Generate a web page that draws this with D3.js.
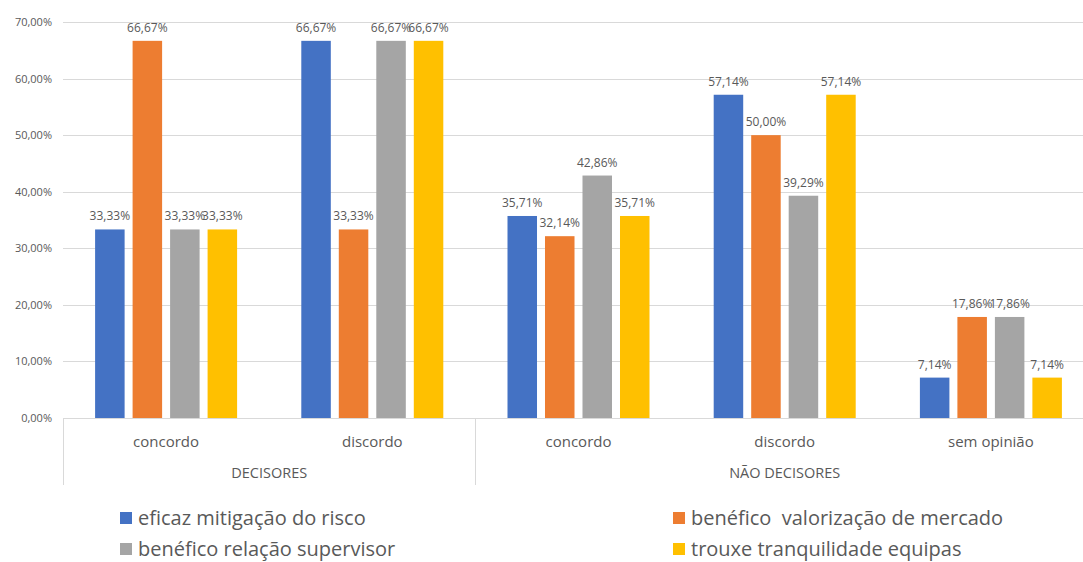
<!DOCTYPE html>
<html>
<head>
<meta charset="utf-8">
<script src="https://cdn.jsdelivr.net/npm/d3@7"></script>
<style>
  html, body { margin: 0; padding: 0; background: #ffffff; }
  svg { display: block; font-family: "Open Sans", "Noto Sans", sans-serif; }
</style>
</head>
<body>
<svg id="chart" width="1083" height="562"></svg>
<script>
// Grouped categories (outer group / inner answer)
const groups = ["DECISORES", "NÃO DECISORES"];
const categories = [
  { group: "DECISORES", label: "concordo" },
  { group: "DECISORES", label: "discordo" },
  { group: "NÃO DECISORES", label: "concordo" },
  { group: "NÃO DECISORES", label: "discordo" },
  { group: "NÃO DECISORES", label: "sem opinião" }
];
const seriesNames = [
  "eficaz mitigação do risco",
  "benéfico  valorização de mercado",
  "benéfico relação supervisor",
  "trouxe tranquilidade equipas"
];
// Percent values per series, one per category
const mitigacao   = [33.33, 66.67, 35.71, 57.14, 7.14];
const valorizacao = [66.67, 33.33, 32.14, 50.00, 17.86];
const supervisor  = [33.33, 66.67, 42.86, 39.29, 17.86];
const equipas     = [33.33, 66.67, 35.71, 57.14, 7.14];
const seriesValues = [mitigacao, valorizacao, supervisor, equipas];
const yTicks = [0, 10, 20, 30, 40, 50, 60, 70];

const colors = ["#4472C4", "#ED7D31", "#A5A5A5", "#FFC000"];
const textColor = "#595959";
const gridColor = "#d9d9d9";

const svg = d3.select("#chart");
const plotLeft = 63, plotRight = 1094, plotTop = 22, plotBottom = 418;

const locale = d3.formatLocale({ decimal: ",", thousands: ".", grouping: [3], currency: ["", "€"] });
const fmt = v => locale.format(".2f")(v) + "%";

const catIdx = categories.map((c, i) => i);
const x0 = d3.scaleBand().domain(catIdx).range([plotLeft, plotRight]).paddingInner(0).paddingOuter(0);
const x1 = d3.scaleBand().domain(d3.range(seriesNames.length)).range([0, x0.bandwidth()])
  .paddingInner(0.213).paddingOuter(0.856);
const y = d3.scaleLinear().domain([0, 70]).range([plotBottom, plotTop]);

// Horizontal gridlines
svg.append("g").selectAll("line").data(yTicks.filter(t => t > 0)).join("line")
  .attr("x1", plotLeft).attr("x2", plotRight)
  .attr("y1", d => Math.round(y(d)) + 0.5).attr("y2", d => Math.round(y(d)) + 0.5)
  .attr("stroke", gridColor).attr("stroke-width", 1);

// Y axis labels
const yAxis = d3.axisLeft(y).tickValues(yTicks).tickSize(0).tickPadding(11)
  .tickFormat(d => fmt(d));
svg.append("g").attr("transform", `translate(${plotLeft},0)`).call(yAxis)
  .call(g => g.select(".domain").remove())
  .call(g => g.selectAll("text").attr("fill", textColor).attr("font-size", 11)
    .attr("font-family", "'Open Sans', sans-serif"));

// Bars
const cat = svg.append("g").selectAll("g").data(catIdx).join("g")
  .attr("transform", i => `translate(${x0(i)},0)`);
cat.selectAll("rect").data(i => seriesValues.map((vals, s) => ({ s, v: vals[i] }))).join("rect")
  .attr("x", d => x1(d.s)).attr("width", x1.bandwidth())
  .attr("y", d => y(d.v)).attr("height", d => y(0) - y(d.v))
  .attr("fill", d => colors[d.s]);

// Value labels
cat.selectAll("text").data(i => seriesValues.map((vals, s) => ({ s, v: vals[i] }))).join("text")
  .attr("x", d => x1(d.s) + x1.bandwidth() / 2)
  .attr("y", d => y(d.v) - 9)
  .attr("text-anchor", "middle").attr("font-size", 12).attr("fill", textColor)
  .text(d => fmt(d.v));

// Category axis: baseline and group separators
svg.append("line").attr("x1", plotLeft).attr("x2", plotRight)
  .attr("y1", plotBottom + 0.5).attr("y2", plotBottom + 0.5)
  .attr("stroke", gridColor).attr("stroke-width", 1);

const groupBounds = groups.map(g => {
  const idx = catIdx.filter(i => categories[i].group === g);
  return { g, x0: x0(idx[0]), x1: x0(idx[idx.length - 1]) + x0.bandwidth() };
});
const sepXs = [plotLeft].concat(groupBounds.map(b => b.x1));
svg.append("g").selectAll("line").data(sepXs).join("line")
  .attr("x1", d => Math.round(d) + 0.5).attr("x2", d => Math.round(d) + 0.5)
  .attr("y1", plotBottom).attr("y2", 485)
  .attr("stroke", gridColor).attr("stroke-width", 1);

svg.append("g").selectAll("text").data(catIdx).join("text")
  .attr("x", i => x0(i) + x0.bandwidth() / 2).attr("y", 447)
  .attr("text-anchor", "middle").attr("font-size", 15).attr("fill", textColor)
  .text(i => categories[i].label);

svg.append("g").selectAll("text").data(groupBounds).join("text")
  .attr("x", d => (d.x0 + d.x1) / 2).attr("y", 478)
  .attr("text-anchor", "middle").attr("font-size", 14.5).attr("fill", textColor)
  .text(d => d.g);

// Legend (two columns, two rows)
const legendPos = [
  { x: 120, y: 525 }, { x: 673, y: 525 },
  { x: 120, y: 556 }, { x: 673, y: 556 }
];
const leg = svg.append("g").selectAll("g").data(seriesNames).join("g")
  .attr("transform", (d, i) => `translate(${legendPos[i].x},${legendPos[i].y})`);
leg.append("rect").attr("x", 0).attr("y", -13).attr("width", 12).attr("height", 12)
  .attr("fill", (d, i) => colors[i]);
leg.append("text").attr("x", 18).attr("y", 0)
  .attr("font-size", 20).attr("fill", textColor)
  .style("white-space", "pre")
  .text(d => d);
</script>
</body>
</html>
